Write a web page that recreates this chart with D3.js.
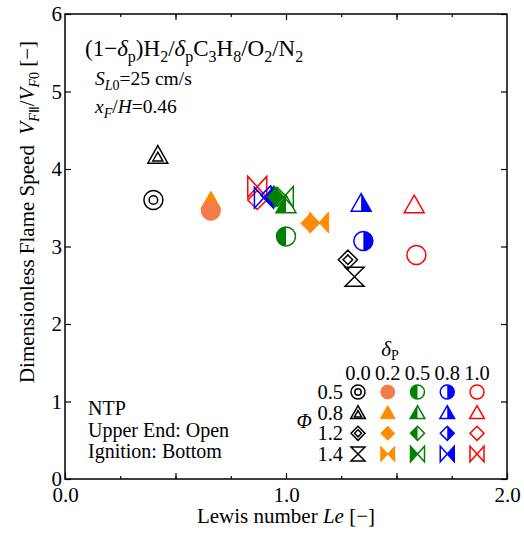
<!DOCTYPE html>
<html>
<head>
<meta charset="utf-8">
<script src="https://cdn.jsdelivr.net/npm/d3@7"></script>
<style>
  body { margin: 0; background: #fff; }
  svg { display: block; font-family: "Liberation Serif", "Times New Roman", serif; }
</style>
</head>
<body>
<svg id="chart" width="524" height="533"></svg>
<script>
// data: delta_p series, each with 4 points (phi = 0.5, 0.8, 1.2, 1.4)
const deltaP = [0.0, 0.2, 0.5, 0.8, 1.0];
const deltaLabels = ['0.0', '0.2', '0.5', '0.8', '1.0'];
const phiValues = [0.5, 0.8, 1.2, 1.4];
const phiLabels = ['0.5', '0.8', '1.2', '1.4'];

const leD00 = [0.40, 0.42, 1.28, 1.31];
const vD00 = [3.60, 4.18, 2.83, 2.61];
const leD02 = [0.66, 0.66, 1.11, 1.15];
const vD02 = [3.46, 3.59, 3.30, 3.31];
const leD05 = [1.00, 1.00, 0.96, 0.99];
const vD05 = [3.13, 3.54, 3.64, 3.64];
const leD08 = [1.35, 1.34, 0.93, 0.90];
const vD08 = [3.07, 3.56, 3.66, 3.63];
const leD10 = [1.59, 1.58, 0.87, 0.87];
const vD10 = [2.89, 3.54, 3.60, 3.77];

const leSeries = [leD00, leD02, leD05, leD08, leD10];
const vSeries = [vD00, vD02, vD05, vD08, vD10];

const xTicks = [0, 1, 2];
const xMinorTicks = [0.25, 0.5, 0.75, 1.25, 1.5, 1.75];
const yTicks = [0, 1, 2, 3, 4, 5, 6];

const colors = ['#000000', '#ff8c00', '#008000', '#0000ff', '#ff0000'];
const circleOrange = '#f47c4a';

const svg = d3.select('#chart');
const margin = {top: 14, right: 17, bottom: 54, left: 65};
const width = 524 - margin.left - margin.right;
const height = 533 - margin.top - margin.bottom;

const x = d3.scaleLinear().domain([0, 2]).range([0, width]);
const y = d3.scaleLinear().domain([0, 6]).range([height, 0]);

// clip paths for half filled markers
const defs = svg.append('defs');
defs.append('clipPath').attr('id', 'leftHalf')
  .append('rect').attr('x', -40).attr('y', -40).attr('width', 40).attr('height', 80);
defs.append('clipPath').attr('id', 'rightHalf')
  .append('rect').attr('x', 0).attr('y', -40).attr('width', 40).attr('height', 80);

const g = svg.append('g')
  .attr('transform', 'translate(' + margin.left + ',' + margin.top + ')');

// text with italic / subscript parts
const rich = (sel, parts, subSize, shift) => {
  let cur = 0;
  parts.forEach(([t, opt]) => {
    opt = opt || '';
    const sub = opt.includes('s');
    const target = sub ? shift : 0;
    const ts = sel.append('tspan').text(t);
    if (target !== cur) ts.attr('dy', target - cur);
    cur = target;
    if (opt.includes('i')) ts.attr('font-style', 'italic');
    if (sub) ts.attr('font-size', subSize);
  });
  return sel;
};

// axes
const fmt = d3.format('.1f');
const styleAxis = a => {
  a.select('.domain').remove();
  a.selectAll('line').attr('stroke', '#000').attr('stroke-width', 1.2);
  a.selectAll('text').attr('font-family', 'Liberation Serif').attr('font-size', 21).attr('fill', '#000');
};

g.append('g').attr('transform', 'translate(0,' + height + ')')
  .call(d3.axisBottom(x).tickValues(xTicks).tickSize(-6).tickPadding(8).tickFormat(fmt))
  .call(styleAxis);
g.append('g').attr('transform', 'translate(0,' + height + ')')
  .call(d3.axisBottom(x).tickValues(xMinorTicks).tickSize(-3).tickFormat(''))
  .call(styleAxis);
g.append('g').attr('transform', 'translate(0,' + height + ')')
  .call(d3.axisBottom(x).tickValues([0.5, 1.5]).tickSize(-6).tickFormat(''))
  .call(styleAxis);
g.append('g')
  .call(d3.axisTop(x).tickValues(xMinorTicks).tickSize(-3).tickFormat(''))
  .call(styleAxis);
g.append('g')
  .call(d3.axisTop(x).tickValues([0.5, 1, 1.5]).tickSize(-6).tickFormat(''))
  .call(styleAxis);
g.append('g')
  .call(d3.axisLeft(y).tickValues(yTicks).tickSize(-6).tickPadding(3).tickFormat(d3.format('d')))
  .call(styleAxis);
g.append('g').attr('transform', 'translate(' + width + ',0)')
  .call(d3.axisRight(y).tickValues(yTicks).tickSize(-6).tickFormat(''))
  .call(styleAxis);

g.append('rect')
  .attr('width', width).attr('height', height)
  .attr('fill', 'none').attr('stroke', '#000').attr('stroke-width', 1.5);

// axis titles
svg.append('text')
  .attr('x', 286).attr('y', 523)
  .attr('text-anchor', 'middle').attr('font-size', 21)
  .call(rich, [['Lewis number '], ['Le', 'i'], [' [\u2212]']], 21, 0);

svg.append('text')
  .attr('transform', 'translate(34,212) rotate(-90)')
  .attr('text-anchor', 'middle').attr('font-size', 21)
  .call(rich, [['Dimensionless Flame Speed\u00a0\u00a0'], ['V', 'i'], ['F', 'is'], ['\u2161', 's'],
    ['/'], ['V', 'i'], ['F', 'is'], ['0', 's'], [' [\u2212]']], 14, 5);

// annotations
svg.append('text')
  .attr('x', 85).attr('y', 56).attr('font-size', 23)
  .call(rich, [['(1\u2212'], ['\u03b4', 'i'], ['p', 's'], [')H'], ['2', 's'], ['/'], ['\u03b4', 'i'], ['p', 's'],
    ['C'], ['3', 's'], ['H'], ['8', 's'], ['/O'], ['2', 's'], ['/N'], ['2', 's']], 16, 6);

svg.append('text')
  .attr('x', 95).attr('y', 85).attr('font-size', 19.5)
  .call(rich, [['S', 'i'], ['L', 'is'], ['0', 's'], ['=25 cm/s']], 14, 5);
svg.append('text')
  .attr('x', 95).attr('y', 113).attr('font-size', 19.5)
  .call(rich, [['x', 'i'], ['F', 'is'], ['/'], ['H', 'i'], ['=0.46']], 14, 5);

['NTP', 'Upper End: Open', 'Ignition: Bottom'].forEach((t, i) => {
  svg.append('text')
    .attr('x', 88).attr('y', 415 + i * 21.5)
    .attr('font-size', 20).text(t);
});

// marker shapes
const tri = r => 'M0,' + (-r) + 'L' + (r * 1.05) + ',' + (r * 0.85) + 'L' + (-r * 1.05) + ',' + (r * 0.85) + 'Z';
const diamond = r => 'M0,' + (-r) + 'L' + r + ',0L0,' + r + 'L' + (-r) + ',0Z';
const bowtie = r => {
  const h = r * 1.1;
  return 'M' + (-r) + ',' + (-h) + 'L0,0L' + (-r) + ',' + h + 'Z' +
    'M' + r + ',' + (-h) + 'L0,0L' + r + ',' + h + 'Z';
};
const hourglass = r => 'M' + (-r) + ',' + (-r) + 'L' + r + ',' + (-r) + 'L0,0Z' +
  'M' + (-r) + ',' + r + 'L' + r + ',' + r + 'L0,0Z';

const shapePath = (di, pi, r) => {
  if (pi === 0) return d3.arc()({innerRadius: 0, outerRadius: r, startAngle: 0, endAngle: 2 * Math.PI});
  if (pi === 1) return tri(r);
  if (pi === 2) return diamond(r);
  return di === 0 ? hourglass(r) : bowtie(r);
};

const drawMarker = (sel, di, pi, r) => {
  const col = (di === 1 && pi === 0) ? circleOrange : colors[di];
  const d = shapePath(di, pi, r);
  if (di === 1) {
    sel.append('path').attr('d', d).attr('fill', col).attr('stroke', col).attr('stroke-width', 1);
    return;
  }
  if (di === 2 || di === 3) {
    sel.append('path').attr('d', d).attr('fill', col)
      .attr('clip-path', di === 2 ? 'url(#leftHalf)' : 'url(#rightHalf)');
  }
  sel.append('path').attr('d', d).attr('fill', 'none')
    .attr('stroke', col).attr('stroke-width', 1.5);
  if (di === 0 && pi < 3) {
    const inner = pi === 0 ? shapePath(0, 0, r * 0.45)
      : pi === 1 ? tri(r * 0.5) : diamond(r * 0.5);
    sel.append('path').attr('d', inner)
      .attr('transform', pi === 1 ? 'translate(0,' + (r * 0.2) + ')' : null)
      .attr('fill', 'none').attr('stroke', col).attr('stroke-width', 1.5);
  }
};

// data points
const points = [];
deltaP.forEach((dp, di) => {
  phiValues.forEach((ph, pi) => {
    points.push({di, pi, le: leSeries[di][pi], v: vSeries[di][pi]});
  });
});

g.append('g').selectAll('g.pt')
  .data(points.slice().reverse())
  .enter().append('g')
    .attr('class', 'pt')
    .attr('transform', d => 'translate(' + x(d.le) + ',' + y(d.v) + ')')
    .each(function(d) { drawMarker(d3.select(this), d.di, d.pi, 9.5); });

// legend
const lx = d3.scalePoint().domain(deltaP).range([358, 477]);
const ly = d3.scalePoint().domain(phiValues).range([392, 454]);
const legend = svg.append('g');

legend.append('text')
  .attr('x', 390).attr('y', 356).attr('text-anchor', 'middle').attr('font-size', 21)
  .call(rich, [['\u03b4', 'i'], ['P', 's']], 14, 4);

deltaP.forEach((dp, di) => {
  legend.append('text')
    .attr('x', lx(dp)).attr('y', 380)
    .attr('text-anchor', 'middle').attr('font-size', 20.5)
    .text(deltaLabels[di]);
});
phiValues.forEach((ph, pi) => {
  legend.append('text')
    .attr('x', 343).attr('y', ly(ph) + 7)
    .attr('text-anchor', 'end').attr('font-size', 20.5)
    .text(phiLabels[pi]);
});
legend.append('text')
  .attr('x', 304).attr('y', 428).attr('text-anchor', 'middle')
  .attr('font-size', 20).attr('font-style', 'italic').text('\u03a6');

points.forEach(p => {
  const m = legend.append('g')
    .attr('transform', 'translate(' + lx(deltaP[p.di]) + ',' + ly(phiValues[p.pi]) + ')');
  drawMarker(m, p.di, p.pi, 7);
});
</script>
</body>
</html>
